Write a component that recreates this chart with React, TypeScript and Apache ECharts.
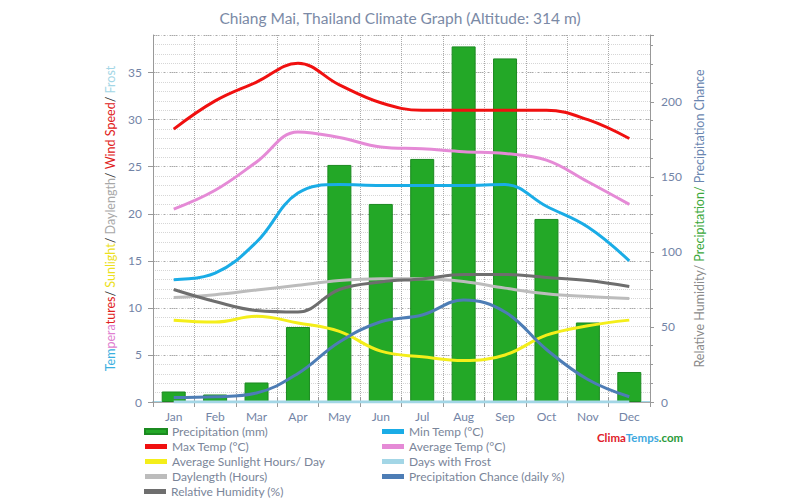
import React, { useEffect, useRef } from "react";
import * as echarts from "echarts";

const months = ["Jan", "Feb", "Mar", "Apr", "May", "Jun", "Jul", "Aug", "Sep", "Oct", "Nov", "Dec"];
const precipitation = [7, 5, 13, 50, 158, 132, 162, 237, 229, 122, 53, 20];
const maxTemp = [29, 32, 34, 36, 33.7, 31.8, 31, 31, 31, 31, 30, 28];
const avgTemp = [20.5, 22.5, 25.5, 28.7, 28.1, 27.1, 26.9, 26.6, 26.4, 25.7, 23.4, 21];
const minTemp = [13, 13.7, 17, 22.2, 23.1, 23, 23, 23, 23.1, 20.8, 18.6, 15];
const sunlight = [8.7, 8.5, 9.1, 8.4, 7.5, 5.4, 4.8, 4.4, 5.0, 7.1, 8.1, 8.7];
const frost = [0, 0, 0, 0, 0, 0, 0, 0, 0, 0, 0, 0];
const daylength = [11.1, 11.4, 11.9, 12.4, 12.9, 13.1, 13.1, 12.8, 12.1, 11.5, 11.2, 11.0];
const precipChance = [3, 3.5, 6, 19, 40, 53.5, 58, 68, 60, 35, 15, 3.5];
const humidity = [75, 67, 61, 60, 75, 80, 82, 85, 85, 83, 81, 77];

const FONT = "Lato";
const LABEL = "#7384a6";
const LEG = "#7a8599";

const legendBase = (left: number, top: number, data: string[]) => ({
  orient: "vertical",
  left,
  top,
  itemWidth: 22,
  itemHeight: 5,
  itemGap: 0,
  itemTextGap: 2,
  icon: "rect",
  padding: 0,
  textStyle: { color: LEG, fontSize: 12, fontFamily: FONT, lineHeight: 15 },
  data,
});

export default function App() {
  const ref = useRef<HTMLDivElement>(null);
  useEffect(() => {
    const chart = echarts.init(ref.current!, null, { renderer: "svg" });
    const line = (name: string, data: number[], color: string, yAxisIndex: number, width = 3) => ({
      name,
      type: "line",
      data,
      yAxisIndex,
      smooth: 0.4,
      symbol: "none",
      lineStyle: { color, width },
      itemStyle: { color },
    });
    chart.setOption({
      animation: false,
      textStyle: { fontFamily: FONT },
      title: {
        text: "Chiang Mai, Thailand Climate Graph (Altitude: 314 m)",
        left: "center",
        top: 5,
        textStyle: { fontFamily: FONT, fontSize: 15.5, fontWeight: "normal", color: "#7b8aa6" },
      },
      grid: { left: 153, right: 150, top: 35, bottom: 98 },
      xAxis: [
        {
          type: "category",
          data: months,
          boundaryGap: true,
          axisLine: { lineStyle: { color: "#a3d6e6", width: 2 } },
          axisTick: { show: true, length: 5, lineStyle: { color: "#999" } },
          axisLabel: { color: LABEL, fontSize: 12, fontFamily: FONT, margin: 8 },
          splitLine: { show: true, lineStyle: { color: "#aaa", type: "dotted", width: 1 } },
        },
        {
          type: "category",
          data: months,
          position: "top",
          boundaryGap: true,
          axisLine: { lineStyle: { color: "#aaa", width: 1 } },
          axisTick: { show: true, length: 5, lineStyle: { color: "#999" } },
          axisLabel: { show: false },
          splitLine: { show: false },
        },
      ],
      yAxis: [
        {
          type: "value",
          min: 0,
          max: 39,
          interval: 5,
          position: "left",
          name:
            "{a|Tem}{b|pera}{c|tures}{s|/ }{d|Sunlight}{s|/ }{e|Daylength}{s|/ }{f|Wind Speed}{s|/ }{g|Frost}",
          nameLocation: "middle",
          nameGap: 33,
          nameRotate: 90,
          nameTextStyle: {
            fontFamily: FONT,
            fontSize: 12.5,
            rich: {
              a: { color: "#3ab0e0", fontSize: 12.5, fontFamily: FONT },
              b: { color: "#e080d0", fontSize: 12.5, fontFamily: FONT },
              c: { color: "#e02020", fontSize: 12.5, fontFamily: FONT },
              s: { color: "#333", fontSize: 12.5, fontFamily: FONT },
              d: { color: "#ece020", fontSize: 12.5, fontFamily: FONT },
              e: { color: "#a8a8a8", fontSize: 12.5, fontFamily: FONT },
              f: { color: "#e02020", fontSize: 12.5, fontFamily: FONT },
              g: { color: "#a3d6e6", fontSize: 12.5, fontFamily: FONT },
            },
          },
          axisLine: { show: true, lineStyle: { color: "#999" } },
          axisTick: { show: true, length: 5, lineStyle: { color: "#999" } },
          axisLabel: { color: LABEL, fontSize: 12, fontFamily: FONT, margin: 11, showMaxLabel: false },
          splitLine: { show: true, lineStyle: { color: "#a8a8a8", type: [7, 4, 2, 4], width: 1 } },
        },
        {
          type: "value",
          min: 0,
          max: 244.6,
          interval: 50,
          position: "right",
          name: "{a|Relative Humidity/ }{b|Precipitation/ }{c|Precipitation Chance}",
          nameLocation: "middle",
          nameGap: 36,
          nameRotate: 90,
          nameTextStyle: {
            fontFamily: FONT,
            fontSize: 12.5,
            rich: {
              a: { color: "#8a8a8a", fontSize: 12.5, fontFamily: FONT },
              b: { color: "#3aa83a", fontSize: 12.5, fontFamily: FONT },
              c: { color: "#6a86b0", fontSize: 12.5, fontFamily: FONT },
            },
          },
          axisLine: { show: true, lineStyle: { color: "#999" } },
          axisTick: { show: true, length: 4, lineStyle: { color: "#999" } },
          minorTick: { show: true, splitNumber: 4, length: 3, lineStyle: { color: "#999" } },
          axisLabel: { color: LABEL, fontSize: 12, fontFamily: FONT, margin: 11, showMaxLabel: false },
          splitLine: { show: false },
        },
        {
          type: "value",
          min: 0,
          max: 39,
          interval: 1,
          position: "left",
          show: true,
          axisLine: { show: false },
          axisTick: { show: false },
          axisLabel: { show: false },
          splitLine: { show: true, lineStyle: { color: "#d6d6d6", type: "dotted", width: 1 } },
          z: 0,
        },
      ],
      legend: [
        legendBase(144, 424, [
          "Precipitation (mm)",
          "Max Temp (°C)",
          "Average Sunlight Hours/ Day",
          "Daylength (Hours)",
        ]),
        legendBase(144, 484, ["Relative Humidity (%)"]),
        legendBase(382, 424, [
          "Min Temp (°C)",
          "Average Temp (°C)",
          "Days with Frost",
          "Precipitation Chance (daily %)",
        ]),
      ],
      graphic: [
        {
          type: "text",
          left: 597,
          top: 431,
          style: {
            text: "{a|Clima}{b|Temps}{c|.com}",
            rich: {
              a: { fill: "#e0202a", fontSize: 11.5, fontWeight: "bold", fontFamily: FONT },
              b: { fill: "#3fa9e0", fontSize: 11.5, fontWeight: "bold", fontFamily: FONT },
              c: { fill: "#2a9a3a", fontSize: 11.5, fontWeight: "bold", fontFamily: FONT },
            },
          },
        },
      ],
      series: [
        {
          name: "Precipitation (mm)",
          type: "bar",
          data: precipitation,
          yAxisIndex: 1,
          barWidth: 24,
          itemStyle: { color: "#23a827", borderColor: "#1b8a20", borderWidth: 1 },
        },
        line("Min Temp (°C)", minTemp, "#1aace6", 0),
        line("Max Temp (°C)", maxTemp, "#f01010", 0),
        line("Average Temp (°C)", avgTemp, "#e58ad6", 0),
        line("Average Sunlight Hours/ Day", sunlight, "#f4ee1a", 0),
        line("Days with Frost", frost, "#a3d6e6", 0),
        line("Daylength (Hours)", daylength, "#bcbcbc", 0),
        line("Precipitation Chance (daily %)", precipChance, "#4d7db5", 1),
        line("Relative Humidity (%)", humidity, "#6e6e6e", 1),
      ],
    });
    return () => chart.dispose();
  }, []);
  return <div ref={ref} style={{ width: 800, height: 500, position: "absolute", left: 0, top: 0, background: "#fff" }} />;
}
